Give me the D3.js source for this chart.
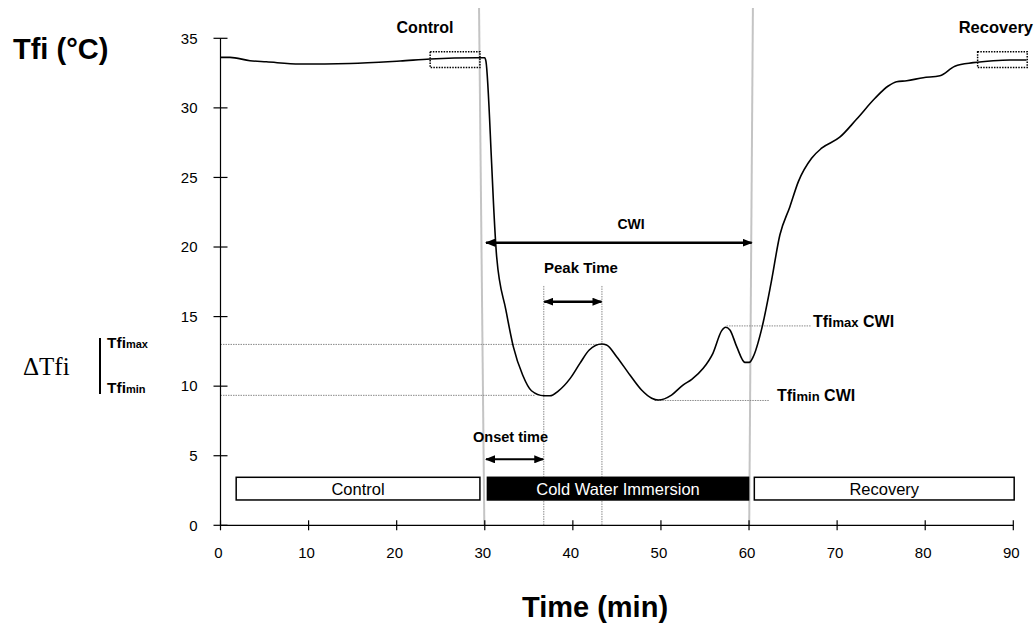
<!DOCTYPE html>
<html>
<head>
<meta charset="utf-8">
<script src="https://cdn.jsdelivr.net/npm/d3@7"></script>
<style>
  html, body { margin: 0; padding: 0; background: #fff; }
  svg { display: block; font-family: "Liberation Sans", Arial, sans-serif; }
</style>
</head>
<body>
<svg id="chart" width="1034" height="624"></svg>
<script>
// ---------------- data ----------------
const timeMin = [0, 1.08, 3.35, 5.2, 9.0, 14.7, 20.4, 23.8, 29.1, 30.0, 30.14, 30.78, 30.97, 31.35, 32.4, 33.24, 34.3, 35.3, 36.7, 37.4, 38.34, 39.7, 40.8, 41.86, 43.27, 43.83, 44.97, 46.48, 47.8, 48.95, 49.7, 51.2, 52.5, 53.5, 54.8, 55.9, 56.9, 57.34, 57.83, 58.6, 59.53, 60.02, 60.48, 61.43, 62.5, 63.5, 64.64, 65.6, 67.1, 68.24, 70.3, 72.2, 74.3, 75.8, 76.75, 77.9, 79.77, 81.67, 83.37, 85.45, 87.72, 89.6, 91.5];
const tfiC    = [33.63, 33.63, 33.39, 33.31, 33.15, 33.19, 33.37, 33.51, 33.6, 33.6, 33.32, 26.0, 23.4, 19.3, 15.47, 12.84, 10.8, 9.67, 9.31, 9.31, 9.65, 10.56, 11.64, 12.6, 13.03, 12.96, 12.12, 10.8, 9.72, 9.13, 9.0, 9.36, 10.08, 10.49, 11.28, 12.36, 13.99, 14.23, 14.04, 12.84, 11.71, 11.71, 12.12, 14.1, 17.4, 20.86, 22.9, 24.7, 26.38, 27.1, 27.89, 29.18, 30.69, 31.57, 31.88, 31.95, 32.17, 32.31, 33.0, 33.25, 33.39, 33.44, 33.44];

const xTicks = [0, 10, 20, 30, 40, 50, 60, 70, 80, 90];
const yTicks = [0, 5, 10, 15, 20, 25, 30, 35];

const phaseNames = ["Control", "Cold Water Immersion", "Recovery"];
const phaseStart = [1.78, 30.3, 60.6];
const phaseEnd   = [29.45, 59.95, 90.1];
const phaseDark  = [false, true, false];

const phaseLineTop = [29.35, 60.44];   // grey phase boundaries (slightly slanted in source)
const phaseLineBottom = [29.95, 60.02];

const onsetTime = 36.7, peakTime = 43.3;
const tfiMaxCtrl = 13.0, tfiMinCtrl = 9.34;
const tfiMaxCWI = 14.33, tfiMinCWI = 8.97;

// ---------------- layout ----------------
const svg = d3.select("#chart");
const x = d3.scaleLinear().domain([0, 90]).range([220.5, 1013.3]);
const y = d3.scaleLinear().domain([0, 35]).range([525.3, 38.3]);

const defs = svg.append("defs");
defs.append("marker").attr("id", "ah")
  .attr("viewBox", "0 0 10 8").attr("refX", 9).attr("refY", 4)
  .attr("markerWidth", 10).attr("markerHeight", 8)
  .attr("markerUnits", "userSpaceOnUse")
  .attr("orient", "auto-start-reverse")
  .append("path").attr("d", "M0,0 L10,4 L0,8 z").attr("fill", "#000");

// grey phase boundary lines
svg.selectAll("line.phase").data(phaseLineTop).enter().append("line")
  .attr("x1", (d) => x(d)).attr("y1", 8)
  .attr("x2", (d, i) => x(phaseLineBottom[i])).attr("y2", y(0))
  .attr("stroke", "#c4c4c4").attr("stroke-width", 2);

// dotted reference lines
const dotted = (x1, y1, x2, y2) => svg.append("line")
  .attr("x1", x1).attr("y1", y1).attr("x2", x2).attr("y2", y2)
  .attr("stroke", "#8a8a8a").attr("stroke-width", 1).attr("stroke-dasharray", "1.5,1");

dotted(x(0), y(tfiMaxCtrl), x(peakTime), y(tfiMaxCtrl));
dotted(x(0), y(tfiMinCtrl), x(35.7), y(tfiMinCtrl));
dotted(x(57.45), y(tfiMaxCWI), x(67.1), y(tfiMaxCWI));
dotted(x(49.3), y(tfiMinCWI), x(62.3), y(tfiMinCWI));
dotted(x(onsetTime), y(17.2), x(onsetTime), y(0));
dotted(x(peakTime), y(17.2), x(peakTime), y(0));

// axes
const gx = svg.append("g").attr("transform", `translate(0,${y(0)})`);
gx.append("line").attr("x1", x(0)).attr("x2", x(90)).attr("stroke", "#000").attr("stroke-width", 1.2);
gx.selectAll("line.t").data(xTicks).enter().append("line")
  .attr("x1", (d) => x(d)).attr("x2", (d) => x(d)).attr("y1", -5).attr("y2", 5)
  .attr("stroke", "#000").attr("stroke-width", 1.2);
gx.selectAll("text").data(xTicks).enter().append("text")
  .attr("x", (d) => x(d) - 2).attr("y", 33).attr("text-anchor", "middle")
  .attr("font-size", 15).text((d) => d);

const gy = svg.append("g").attr("transform", `translate(${x(0)},0)`);
gy.append("line").attr("y1", y(35)).attr("y2", y(0)).attr("stroke", "#000").attr("stroke-width", 1.2);
gy.selectAll("line.t").data(yTicks).enter().append("line")
  .attr("x1", -7).attr("x2", 7).attr("y1", (d) => y(d)).attr("y2", (d) => y(d))
  .attr("stroke", "#000").attr("stroke-width", 1.2);
gy.selectAll("text").data(yTicks).enter().append("text")
  .attr("x", -23).attr("y", (d) => y(d)).attr("dy", "0.35em").attr("text-anchor", "end")
  .attr("font-size", 15).text((d) => d);

// phase bars
const pb = svg.selectAll("g.phase").data(phaseNames).enter().append("g");
pb.append("rect")
  .attr("x", (d, i) => x(phaseStart[i])).attr("y", y(3.45))
  .attr("width", (d, i) => x(phaseEnd[i]) - x(phaseStart[i]))
  .attr("height", y(1.82) - y(3.45))
  .attr("fill", (d, i) => phaseDark[i] ? "#000" : "#fff")
  .attr("stroke", "#000").attr("stroke-width", 1.5);
pb.append("text")
  .attr("x", (d, i) => (x(phaseStart[i]) + x(phaseEnd[i])) / 2)
  .attr("y", 495).attr("text-anchor", "middle").attr("font-size", 16.5)
  .attr("fill", (d, i) => phaseDark[i] ? "#fff" : "#000")
  .text((d) => d);

// dotted boxes
const boxes = [[23.8, 29.45], [85.95, 91.58]];
svg.selectAll("rect.box").data(boxes).enter().append("rect")
  .attr("x", (d) => x(d[0])).attr("y", y(34.04))
  .attr("width", (d) => x(d[1]) - x(d[0])).attr("height", y(32.9) - y(34.04))
  .attr("fill", "none").attr("stroke", "#000").attr("stroke-width", 1.5)
  .attr("stroke-dasharray", "1.5,1.2");

// curve
const line = d3.line().x((d) => x(d[0])).y((d) => y(d[1])).curve(d3.curveMonotoneX);
svg.append("path").datum(timeMin.map((t, i) => [t, tfiC[i]]))
  .attr("d", line).attr("fill", "none").attr("stroke", "#000").attr("stroke-width", 1.6);

// arrows
const arrow = (x1, x2, yv, w) => svg.append("line")
  .attr("x1", x(x1)).attr("x2", x(x2)).attr("y1", y(yv)).attr("y2", y(yv))
  .attr("stroke", "#000").attr("stroke-width", w)
  .attr("marker-start", "url(#ah)").attr("marker-end", "url(#ah)");
arrow(30.14, 60.3, 20.31, 2.6);
arrow(36.75, 43.25, 16.07, 2.4);
arrow(30.14, 36.64, 4.74, 2);

// annotation labels
const lbl = (tx, ty, s, size, anchor) => svg.append("text")
  .attr("x", tx).attr("y", ty).attr("font-size", size).attr("font-weight", "bold")
  .attr("text-anchor", anchor || "start").text(s);
lbl(631, 228.5, "CWI", 14, "middle");
lbl(544, 273, "Peak Time", 15);
lbl(510.5, 442, "Onset time", 14.5, "middle");
lbl(425, 32.5, "Control", 16, "middle");
lbl(1033, 33, "Recovery", 16.5, "end");

const subLbl = (tx, ty, main, sub, tail, size, subSize) => {
  const t = svg.append("text").attr("x", tx).attr("y", ty).attr("font-weight", "bold");
  t.append("tspan").attr("font-size", size).text(main);
  t.append("tspan").attr("font-size", subSize).text(sub);
  if (tail) t.append("tspan").attr("font-size", size).text(tail);
};
subLbl(813, 327, "Tfi", "max", " CWI", 16, 13);
subLbl(777, 400.5, "Tfi", "min", " CWI", 16, 13);
subLbl(107, 347.7, "Tfi", "max", null, 15.5, 11);
subLbl(107, 393.3, "Tfi", "min", null, 15.5, 11);

// delta Tfi label and bracket bar
svg.append("text").attr("x", 23).attr("y", 375).attr("font-size", 25)
  .attr("font-family", "'Liberation Serif', 'Times New Roman', serif").text("\u0394Tfi");
svg.append("line").attr("x1", 100).attr("x2", 100).attr("y1", 338).attr("y2", 394)
  .attr("stroke", "#000").attr("stroke-width", 2);

// axis titles
svg.append("text").attr("x", 13).attr("y", 58.5).attr("font-size", 29).attr("font-weight", "bold").text("Tfi (°C)");
svg.append("text").attr("x", 595).attr("y", 617).attr("font-size", 29).attr("font-weight", "bold")
  .attr("text-anchor", "middle").text("Time (min)");
</script>
</body>
</html>
